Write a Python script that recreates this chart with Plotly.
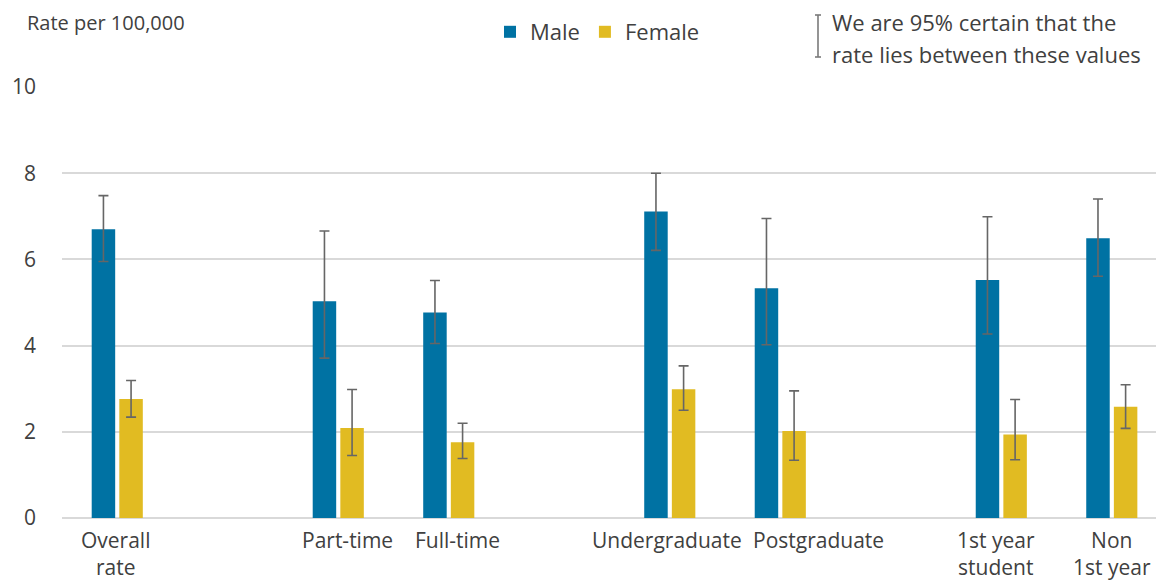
import plotly.graph_objects as go

categories = ["Overall<br>rate", " ", "Part-time", "Full-time", "  ", "Undergraduate",
              "Postgraduate", "   ", "1st year<br>student", "Non<br>1st year"]
male = [6.70, None, 5.03, 4.77, None, 7.11, 5.33, None, 5.52, 6.49]
male_low = [5.95, None, 3.71, 4.05, None, 6.21, 4.02, None, 4.27, 5.61]
male_high = [7.48, None, 6.66, 5.51, None, 8.00, 6.95, None, 6.99, 7.40]
female = [2.76, None, 2.09, 1.76, None, 2.99, 2.02, None, 1.94, 2.58]
female_low = [2.34, None, 1.45, 1.38, None, 2.50, 1.34, None, 1.35, 2.08]
female_high = [3.19, None, 2.98, 2.20, None, 3.53, 2.95, None, 2.75, 3.09]
y_ticks = [0, 2, 4, 6, 8, 10]

# horizontal nudges (px) of category labels, as laid out in the original
label_shift = [-2, 0, 9, 9, 0, -3, 38, 0, -5, 0]

FONT = "Open Sans"
TXT = "#404040"
BLUE = "#0072a3"
YELLOW = "#e1bb22"
ERR = "#666666"


def plus(v, hi):
    return [None if a is None else h - a for a, h in zip(v, hi)]


def minus(v, lo):
    return [None if a is None else a - l for a, l in zip(v, lo)]


fig = go.Figure()
fig.add_trace(go.Bar(
    x=categories, y=male, name="Male", marker=dict(color=BLUE, line=dict(width=0)),
    error_y=dict(type="data", array=plus(male, male_high), arrayminus=minus(male, male_low),
                 color=ERR, thickness=1.6, width=5),
))
fig.add_trace(go.Bar(
    x=categories, y=female, name="Female", marker=dict(color=YELLOW, line=dict(width=0)),
    error_y=dict(type="data", array=plus(female, female_high), arrayminus=minus(female, female_low),
                 color=ERR, thickness=1.6, width=5),
))

fig.update_layout(
    width=1156, height=583,
    margin=dict(l=62, r=0, t=87, b=65, autoexpand=False),
    paper_bgcolor="white", plot_bgcolor="white",
    barmode="group", bargap=0.5, bargroupgap=0.15,
    font=dict(family=FONT, color=TXT, size=21),
    showlegend=True,
    legend=dict(orientation="h", x=(490 - 62) / 1094, xanchor="left", y=1 + (87 - 32) / 431,
                yanchor="middle", font=dict(size=22, color=TXT), itemwidth=30,
                traceorder="normal", bgcolor="rgba(0,0,0,0)"),
    xaxis=dict(type="category", range=[-0.5, 9.4], showgrid=False, showline=False,
               ticks="", showticklabels=False, fixedrange=True),
    yaxis=dict(range=[0, 10], tickvals=y_ticks, showgrid=True, gridcolor="#d9d9d9",
               gridwidth=1.5, zeroline=True, zerolinecolor="#d9d9d9", zerolinewidth=1.5,
               showline=False, ticks="", tickfont=dict(size=21, color=TXT),
               ticklabelstandoff=25),
)

# category labels under the axis
for cat, dx in zip(categories, label_shift):
    if cat.strip():
        fig.add_annotation(text=cat, x=cat, y=0, xref="x", yref="y", yanchor="top",
                           xanchor="center", xshift=dx, yshift=-6, showarrow=False,
                           align="center", font=dict(size=21, color=TXT))

fig.add_annotation(text="Rate per 100,000", xref="paper", yref="paper", x=(25 - 62) / 1094,
                   y=1 + (87 - 22) / 431, xanchor="left", yanchor="middle", showarrow=False,
                   font=dict(size=20, color=TXT))
fig.add_annotation(text="We are 95% certain that the", xref="paper", yref="paper",
                   x=(830 - 62) / 1094, y=1 + (87 - 22) / 431, xanchor="left", yanchor="middle",
                   showarrow=False, font=dict(size=22, color=TXT))
fig.add_annotation(text="rate lies between these values", xref="paper", yref="paper",
                   x=(830 - 62) / 1094, y=1 + (87 - 54) / 431, xanchor="left", yanchor="middle",
                   showarrow=False, font=dict(size=22, color=TXT))

# legend icon for confidence interval
xi = (818 - 62) / 1094
y_top, y_bot = 1 + (87 - 15) / 431, 1 + (87 - 57) / 431
cap = 3 / 1094
line = dict(color="#7a7a7a", width=1.6)
fig.add_shape(type="line", xref="paper", yref="paper", x0=xi, x1=xi, y0=y_bot, y1=y_top, line=line)
fig.add_shape(type="line", xref="paper", yref="paper", x0=xi - cap, x1=xi + cap, y0=y_top, y1=y_top, line=line)
fig.add_shape(type="line", xref="paper", yref="paper", x0=xi - cap, x1=xi + cap, y0=y_bot, y1=y_bot, line=line)

fig.write_html(
    "out.html",
    config={"displayModeBar": False},
    post_script="document.body.style.margin='0';document.body.style.overflow='hidden';",
)
